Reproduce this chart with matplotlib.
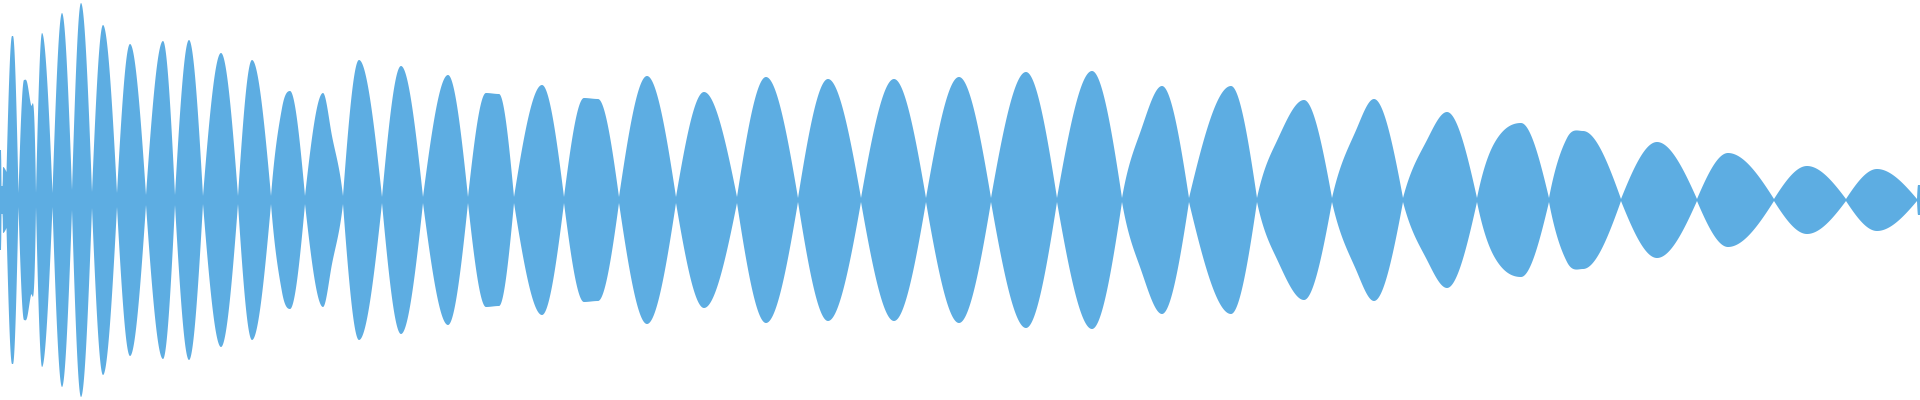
import numpy as np
import matplotlib
matplotlib.use("Agg")
import matplotlib.pyplot as plt

# waveform envelope: x in track pixels, level as fraction of full scale
# zero crossings (pinches) between the lobes
pinch_x = [1.5, 2.7, 6.5, 18.5, 36, 52.5, 72, 92, 117, 146, 175, 203, 238, 271, 305,
           343, 382, 423, 468, 514, 564, 619, 676, 737, 798, 861, 926, 991, 1057,
           1122, 1189, 1257, 1332, 1403, 1477, 1549, 1621, 1697, 1774, 1846, 1917]
pinch_amp = [0.07, 0.07, 0.14, 0.035, 0.035, 0.035, 0.05, 0.04, 0.035, 0.025, 0.025,
             0.02, 0.02, 0.02, 0.02, 0.02, 0.015, 0.015, 0.015, 0.015, 0.015, 0.015,
             0.015, 0.015, 0.01, 0.01, 0.01, 0.01, 0.01, 0.01, 0.01, 0.01, 0.01, 0.01,
             0.01, 0.01, 0.005, 0.005, 0.005, 0.005, 0.005]

# lobe crests
crest_x = [0, 1, 3, 12, 13, 24, 42, 62, 81, 103, 130, 163, 189, 221, 252, 290, 323,
           359, 401, 448, 486, 499, 542, 584, 598, 647, 704, 766, 828, 894, 959, 1026,
           1092, 1162, 1231, 1304, 1374, 1447, 1521, 1583, 1657, 1728, 1807, 1877,
           1918, 1920]
crest_amp = [0.25, 0.25, 0.165, 0.82, 0.82, 0.60, 0.835, 0.935, 0.985, 0.875, 0.78,
             0.795, 0.80, 0.735, 0.70, 0.545, 0.535, 0.70, 0.67, 0.625, 0.535, 0.53,
             0.575, 0.51, 0.505, 0.62, 0.54, 0.615, 0.605, 0.605, 0.615, 0.64, 0.645,
             0.57, 0.57, 0.50, 0.505, 0.44, 0.385, 0.345, 0.29, 0.235, 0.17, 0.155,
             0.075, 0.075]

# shoulders on the flanks of some lobes
shoulder_x = [27, 31, 34, 282, 332, 1140, 1275, 1357, 1427, 1495, 1567]
shoulder_amp = [0.59, 0.475, 0.44, 0.46, 0.32, 0.335, 0.275, 0.36, 0.30, 0.29, 0.31]

color = "#5DADE2"

kx = np.array(pinch_x + crest_x + shoulder_x, dtype=float)
ka = np.array(pinch_amp + crest_amp + shoulder_amp, dtype=float)
kind = np.array([0] * len(pinch_x) + [1] * len(crest_x) + [2] * len(shoulder_x))
order = np.argsort(kx, kind="stable")
kx, ka, kind = kx[order], ka[order], kind[order]

# smooth lobes: sharp V at pinches, flat tangent at crests
dx = np.diff(kx)
sec = np.diff(ka) / dx
pt_slope = np.zeros(len(kx))
for j in np.where(kind == 2)[0]:
    pt_slope[j] = (ka[j + 1] - ka[j - 1]) / (kx[j + 1] - kx[j - 1])
m0 = np.where(kind[:-1] == 0, np.pi / 2 * sec, pt_slope[:-1])
m1 = np.where(kind[1:] == 0, np.pi / 2 * sec, pt_slope[1:])

xs = np.linspace(0, 1920, 7681)
i = np.clip(np.searchsorted(kx, xs, side="right") - 1, 0, len(kx) - 2)
u = np.clip((xs - kx[i]) / dx[i], 0, 1)
h00 = 2 * u**3 - 3 * u**2 + 1
h10 = u**3 - 2 * u**2 + u
h01 = -2 * u**3 + 3 * u**2
h11 = u**3 - u**2
level = h00 * ka[i] + h10 * dx[i] * m0[i] + h01 * ka[i + 1] + h11 * dx[i] * m1[i]
level = np.clip(level, 0, 1)

fig = plt.figure(figsize=(19.2, 4), dpi=100)
ax = fig.add_axes([0, 0, 1, 1])
ax.fill_between(xs, -level, level, color=color, linewidth=0)
ax.set_xlim(0, 1920)
ax.set_ylim(-1, 1)
ax.axis("off")
fig.savefig("out.png", dpi=100, facecolor="white")
